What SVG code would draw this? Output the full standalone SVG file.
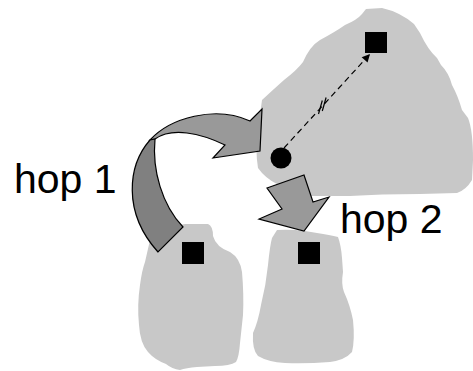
<svg xmlns="http://www.w3.org/2000/svg" width="473" height="371" viewBox="0 0 473 371">
  <style>
    .region { fill: #c8c8c8; stroke: none; }
    .host { fill: #000000; }
    .hop { stroke: #000000; stroke-width: 1.2; stroke-linejoin: miter; }
    .hop-light { fill: #999999; }
    .hop-dark { fill: #808080; }
    .label { font-family: "Liberation Sans", Arial, sans-serif; font-size: 41px; fill: #000000; }
    .link { stroke: #000000; stroke-width: 1.2; fill: none; }
  </style>
  <defs>
    <marker id="tip" viewBox="0 0 10 10" refX="10" refY="5" markerWidth="10" markerHeight="8" markerUnits="userSpaceOnUse" orient="auto">
      <path d="M0,0 L10,5 L0,10 Z" fill="#000000"/>
    </marker>
  </defs>

  <!-- large region, top right -->
  <g id="region-top">
    <path class="region" d="M366,9 L382,8 Q400,12 414,24 L420,33 Q428,50 437,58 L441,65 Q449,73 452,85 Q458,96 462,110 L468,118 Q473,130 473,160 L472,180 Q466,190 457,193 L420,194 Q380,194 350,196 L300,196 Q285,196 277,184 Q265,178 258,168 Q255,150 258,130 L262,100 Q275,88 284,80 Q297,70 303,62 Q310,46 320,40 Q335,32 345,25 Q357,20 362,14 Z"/>
    <rect class="host" x="365" y="32" width="22" height="21"/>
    <circle class="host" cx="281" cy="158" r="10.5"/>
  </g>

  <!-- region, bottom left -->
  <g id="region-left">
    <path class="region" d="M150,240 Q165,226 185,224 L208,224 Q213,226 213,236 Q216,247 230,252 Q240,258 242,272 Q244,295 243,315 L240,343 Q239,357 236,362 Q230,366 215,366 L197,367 Q186,368 180,370 Q172,369 166,364 Q155,360 148,352 Q140,343 139,325 Q137,305 140,285 Q142,270 145,262 Z"/>
    <rect class="host" x="182" y="242" width="22" height="22"/>
  </g>

  <!-- region, bottom right -->
  <g id="region-right">
    <path class="region" d="M277,230 Q290,229 305,231 L317,233 Q330,235 338,237 Q341,245 342,258 L343,272 Q341,284 344,292 Q350,305 353,320 Q355,340 352,352 Q345,360 330,362 Q305,364 285,363 Q268,362 258,356 Q252,350 253,333 Q258,322 261,305 Q266,285 268,265 Q270,245 272,238 Z"/>
    <rect class="host" x="298" y="242" width="22" height="22"/>
  </g>

  <g id="connectors">
    <!-- hop 1: curved block arrow -->
    <g id="hop-1-arrow">
      <path class="hop hop-light" d="M150,140 C170,118 215,105 250,121 L262,109 L260,151 L213,158 L225,145 C200,133 172,127 155,139 Z"/>
      <path class="hop hop-dark" d="M150,140 C128,165 122,212 158,252 L183,227 C162,205 152,170 155,139 Z"/>
    </g>
    <!-- hop 2: short block arrow -->
    <polygon id="hop-2-arrow" class="hop hop-light" points="267,188 304,175 313,202 329,197 304,231 259,219 282,209"/>
    <!-- logical link (dashed) with break marks -->
    <g id="logical-link">
      <line class="link" x1="284" y1="148" x2="370" y2="54" stroke-dasharray="6,4" marker-end="url(#tip)"/>
      <line class="link" x1="318.5" y1="114" x2="322.3" y2="100.5"/>
      <line class="link" x1="322.3" y1="111" x2="326.1" y2="97.5"/>
    </g>
  </g>

  <g id="labels">
    <text class="label" x="14" y="193">hop 1</text>
    <text class="label" x="340" y="233">hop 2</text>
  </g>
</svg>
